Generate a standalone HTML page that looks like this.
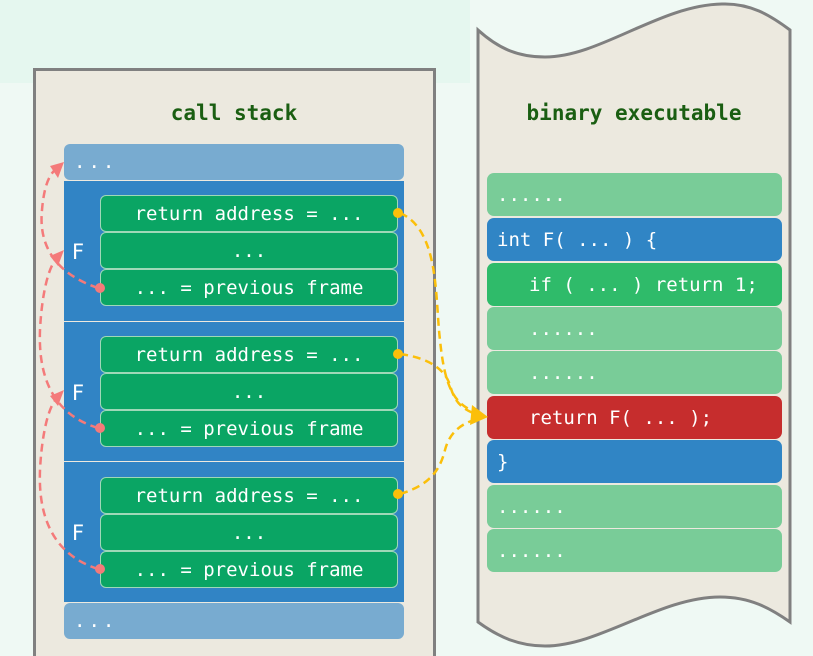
<!DOCTYPE html>
<html><head><meta charset="utf-8"><style>
html,body{margin:0;width:813px;height:656px;overflow:hidden;}
body{background:#eff9f4;position:relative;font-family:"DejaVu Sans Mono","Liberation Mono",monospace;}
.a{position:absolute;box-sizing:border-box;}
.t{color:#fff;font-size:19px;display:flex;align-items:center;white-space:pre;}
.g{background:#0aa564;border:1px solid #9fd8b8;border-radius:6px;justify-content:center;left:100px;width:298px;height:37px;}
.r{left:487px;width:295px;height:43px;border-radius:7px;padding-left:10px;}
</style></head><body>
<div class="a" style="left:0;top:0;width:470px;height:83px;background:#e5f7ef"></div>
<div class="a" style="left:33px;top:68px;width:403px;height:588px;background:#ece9df;border:3px solid #808080;border-bottom:none"></div>
<svg class="a" style="left:0;top:0" width="813" height="656">
<path d="M478,30 C500,50 520,57 545,57 C600,57 660,5 722,4 C750,3 770,15 790,30 L790,622 C770,608 750,597 720,597 C660,597 600,646 545,646 C520,646 500,638 478,622 Z" fill="#ece9df" stroke="#808080" stroke-width="3"/>
</svg>
<div class="a" style="left:34px;top:101px;width:400px;text-align:center;color:#1a5e12;font-weight:bold;font-size:21px">call stack</div>
<div class="a" style="left:478px;top:101px;width:312px;text-align:center;color:#1a5e12;font-weight:bold;font-size:21px">binary executable</div>
<div class="a t" style="left:64px;top:144px;width:340px;height:36px;background:#78abd0;border-radius:6px;padding-left:10px;letter-spacing:3px">...</div>
<div class="a" style="left:64px;top:181px;width:340px;height:140px;background:#3184c5"></div>
<div class="a" style="left:64px;top:322px;width:340px;height:139px;background:#3184c5"></div>
<div class="a" style="left:64px;top:462px;width:340px;height:140px;background:#3184c5"></div>
<div class="a t" style="left:72px;top:240px;font-size:21px;font-family:'DejaVu Sans',sans-serif">F</div>
<div class="a t" style="left:72px;top:381px;font-size:21px;font-family:'DejaVu Sans',sans-serif">F</div>
<div class="a t" style="left:72px;top:521px;font-size:21px;font-family:'DejaVu Sans',sans-serif">F</div>
<div class="a t g" style="top:195px">return address = ...</div>
<div class="a t g" style="top:232px">...</div>
<div class="a t g" style="top:269px">... = previous frame</div>
<div class="a t g" style="top:336px">return address = ...</div>
<div class="a t g" style="top:373px">...</div>
<div class="a t g" style="top:410px">... = previous frame</div>
<div class="a t g" style="top:477px">return address = ...</div>
<div class="a t g" style="top:514px">...</div>
<div class="a t g" style="top:551px">... = previous frame</div>
<div class="a t" style="left:64px;top:603px;width:340px;height:36px;background:#78abd0;border-radius:6px;padding-left:10px;letter-spacing:3px">...</div>
<div class="a t r" style="top:173px;background:#79cc98">......</div>
<div class="a t r" style="top:218px;background:#3085c5">int F( ... ) {</div>
<div class="a t r" style="top:263px;background:#2fbb6a;padding-left:42px">if ( ... ) return 1;</div>
<div class="a t r" style="top:307px;background:#79cc98;padding-left:42px">......</div>
<div class="a t r" style="top:351px;background:#79cc98;padding-left:42px">......</div>
<div class="a t r" style="top:396px;background:#c62d2d;padding-left:42px">return F( ... );</div>
<div class="a t r" style="top:440px;background:#3085c5">}</div>
<div class="a t r" style="top:485px;background:#79cc98">......</div>
<div class="a t r" style="top:529px;background:#79cc98">......</div>
<svg class="a" style="left:0;top:0" width="813" height="656">
<g fill="none" stroke="#fbbf0a" stroke-width="2.5" stroke-dasharray="8,5">
<path d="M400,213 C440,230 435,300 440,340 C445,390 455,405 478,413"/>
<path d="M400,354 C430,358 445,370 450,385 C455,405 465,410 478,415"/>
<path d="M400,494 C430,485 440,470 445,450 C450,430 465,422 478,419"/>
</g>
<g fill="#fbbf0a"><path d="M488,417 L472,405 L470,425 Z"/></g>
<g fill="#fbbf0a"><circle cx="398" cy="213" r="5"/><circle cx="398" cy="354" r="5"/><circle cx="398" cy="494" r="5"/></g>
<g fill="none" stroke="#f47a7a" stroke-width="2.5" stroke-dasharray="8,5">
<path d="M98,288 C60,275 38,250 42,210 C44,185 50,172 58,168"/>
<path d="M98,428 C55,415 38,380 40,330 C42,290 50,262 58,258"/>
<path d="M98,569 C55,555 38,520 40,470 C42,430 50,402 58,398"/>
</g>
<g fill="#f47a7a">
<path d="M64,162 L50,166 L58,178 Z"/><path d="M64,250 L50,256 L58,266 Z"/><path d="M64,390 L50,396 L58,406 Z"/>
<circle cx="100" cy="288" r="5"/><circle cx="100" cy="428" r="5"/><circle cx="100" cy="569" r="5"/>
</g>
</svg>
</body></html>
